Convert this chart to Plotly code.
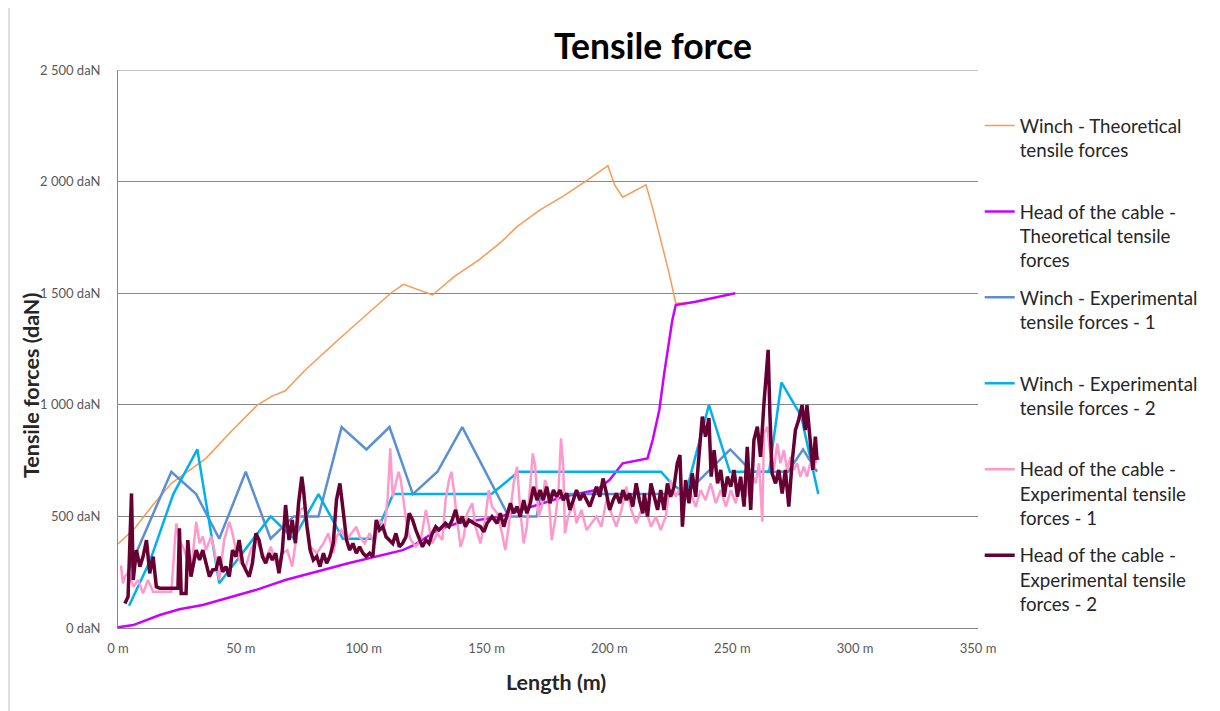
import plotly.graph_objects as go

# ---------------- data ----------------
winch_theo_x = [0, 6.9, 13.6, 21.7, 35.8, 46.6, 56.7, 62.7, 68.1, 76.2, 91, 101.8, 111.2, 116.2, 128,
                136.8, 146.9, 156, 162.4, 171.8, 181.2, 190.6, 199.4, 202.1, 205.4, 214.9, 217.6,
                220.9, 224.3, 227, 233.7]
winch_theo_y = [376, 448, 543, 648, 760, 887, 999, 1039, 1063, 1156, 1305, 1410, 1502, 1540, 1492,
                1574, 1649, 1730, 1798, 1873, 1935, 2003, 2071, 1985, 1930, 1985, 1880,
                1738, 1589, 1455, 1457]

head_theo_x = [0, 6.2, 17, 25, 34.5, 46.6, 56, 68.1, 80.2, 93.7, 115.9, 120.6, 130, 138, 155.5,
               181.2, 194.7, 200, 205.4, 215.5, 217.6, 220.3, 222.3, 224.3, 225.6, 227, 235, 251.2]
head_theo_y = [3, 13, 58, 84, 103, 140, 170, 215, 252, 290, 349, 372, 439, 469, 499,
               588, 618, 663, 738, 760, 842, 977, 1141, 1290, 1380, 1447, 1462, 1500]

winch_exp1_x = [4, 21.7, 31.8, 41.2, 52, 62.1, 71.5, 81.6, 91, 101.1, 110.5, 120, 130, 140.1,
                159, 170.4, 172, 231, 240, 249.2, 258, 272.7, 278.8, 284.5]
winch_exp1_y = [250, 700, 600, 400, 700, 400, 500, 500, 900, 800, 900, 600, 700, 900,
                500, 500, 600, 600, 700, 800, 700, 700, 800, 700]

winch_exp2_x = [4.5, 13, 22.5, 32.3, 41.2, 62.1, 71.5, 81.6, 91.5, 104, 112, 152, 163, 221, 225,
                231, 240.5, 249, 259.3, 265, 270, 278, 285]
winch_exp2_y = [100, 300, 600, 800, 200, 500, 400, 600, 400, 400, 600, 600, 700, 700, 650,
                600, 1000, 700, 700, 700, 1100, 950, 600]

head_exp1_x = [1.2, 2, 2.8, 4.2, 6.2, 8.2, 10.2, 12.2, 14.3, 17, 21.7, 23.7, 25, 27, 29.7, 31.8,
               33.2, 34.5, 35.8, 37.9, 39.2, 41.2, 43.2, 45.3, 46.6, 48, 50, 52, 54, 56.1, 58.1,
               60.1, 62.2, 64.8, 66.9, 68.9, 70.9, 72.8, 74.2, 76.2, 78.2, 80.9, 83.6, 85.6, 87.6,
               88.9, 90.9, 93, 95, 97, 98.3, 100.4, 102.4, 104.4, 106.4, 108.5, 109.8, 110.8, 111.8,
               113.1, 114.2, 115.1, 116.5, 117.8, 119.2, 121.2, 123.2, 125.3, 126.6, 127.9, 129.9,
               132, 133.3, 134.7, 135.7, 136.7, 138, 139.4, 140.7, 142.1, 144.2, 145.5, 147.5, 149.6,
               150.9, 152.2, 154.3, 156.3, 157.6, 159, 161, 162.4, 163.7, 165.1, 166.4, 167.8, 168.8,
               169.8, 171.1, 172.5, 173.8, 175.2, 176.5, 177.9, 179.2, 180.3, 181.2, 181.9, 183.2,
               185.3, 186.6, 188.6, 190.7, 192.7, 194.7, 196.7, 198.8, 200.8, 202.8, 204.9, 206.9,
               208.9, 210.9, 213, 214.8, 216.9, 218.9, 220.9, 222.9, 224.9, 227, 229, 231, 233,
               235.1, 237.1, 239.1, 241.2, 243.3, 245.3, 247.4, 249.4, 251.4, 253.4, 255.5, 257.5,
               259.5, 260.9, 262.2, 262.9, 264.2, 265.6, 266.9, 268.3, 269.6, 271, 272.3, 273.7, 275,
               276.4, 277.7, 279.1, 280.4, 281.7, 283.1, 284.5, 285.6]
head_exp1_y = [280, 200, 230, 250, 185, 215, 155, 215, 162, 162, 162, 469, 394, 349, 245, 476,
               380, 410, 349, 410, 349, 215, 394, 476, 424, 349, 290, 275, 349, 394, 349,
               305, 364, 275, 335, 349, 275, 424, 529, 544, 364, 335, 379, 424, 335,
               409, 439, 394, 424, 454, 409, 379, 424, 379, 484, 454, 588, 805, 588,
               648, 700, 662, 544, 439, 394, 364, 394, 529, 454, 379, 424,
               394, 573, 663, 700, 618, 484, 364, 409, 514, 559, 454, 379, 499,
               618, 544, 514, 424, 349, 454, 648, 723, 529, 379, 454, 633, 782,
               723, 499, 544, 663, 603, 394, 484, 603, 850, 723, 424, 499,
               559, 469, 529, 439, 469, 499, 454, 573, 514, 454, 529, 633,
               529, 469, 529, 529, 454, 499, 439, 499, 663, 588, 633, 573, 603,
               544, 618, 573, 648, 559, 618, 544, 618, 559, 663, 588, 708,
               648, 738, 476, 872, 902, 767, 708, 827, 738, 797, 708, 767, 708,
               738, 678, 723, 678, 738, 708, 767, 753]

head_exp2_x = [2.8, 4.1, 5.5, 6.2, 7.5, 8.9, 10.2, 11.6, 12.9, 14.3, 15.6, 17, 24.4, 25, 25.7, 27.7,
               28.4, 29.7, 31.8, 33.2, 34.5, 35.8, 37.2, 38.5, 39.9, 41.2, 42.6, 43.9, 45.3, 46.6,
               48, 49.3, 50.7, 52, 53.4, 54.7, 56.1, 57.4, 58.8, 60.1, 61.5, 62.8, 64.2, 65.5, 66.9,
               68.2, 69.6, 70.9, 72.2, 73.5, 74.8, 75.5, 76.9, 78.2, 79.5, 80.9, 82.2, 83.6, 84.9,
               86.2, 87.6, 88.9, 90.3, 91.6, 93, 94.3, 95.6, 97, 98.3, 99.7, 101, 102.4, 103.7,
               105.1, 106.4, 107.8, 109.1, 110.4, 111.8, 113.1, 114.5, 115.8, 117.2, 118.5, 119.9,
               121.2, 122.6, 123.9, 125.3, 126.6, 127.9, 129.3, 130.6, 132, 133.3, 134.7, 136,
               137.4, 138.7, 140.1, 141.4, 142.8, 144.8, 147.5, 148.9, 150.2, 152.2, 154.3, 155.6,
               157, 158.3, 159.7, 161, 162.4, 163.7, 165.1, 166.4, 167.8, 169.1, 170.5, 171.8,
               173.1, 174.5, 175.8, 177.2, 178.5, 179.9, 181.2, 182.6, 183.9, 185.3, 186.6, 188,
               189.3, 190.7, 192, 193.4, 194.7, 196.1, 197.4, 198.8, 200.1, 201.5, 202.8, 204.2,
               205.5, 206.9, 208.2, 209.5, 210.9, 212.2, 213.6, 214.2, 215.5, 216.9, 218.2, 219.6,
               220.9, 222.2, 223.6, 224.9, 226.3, 227.6, 228.7, 229.7, 231, 232.4, 233.7, 235.1,
               236.4, 237.8, 239.1, 240.5, 241.4, 242.6, 244, 245.3, 246.7, 248, 249.4, 250.7,
               252.1, 253.4, 254.8, 256.1, 257.5, 258.8, 260.2, 261.5, 262.9, 263.9, 264.6, 265.3,
               266.2, 267.6, 268.9, 270.3, 271.6, 273, 274.3, 275.7, 277, 278.4, 279.7, 280.4,
               281.7, 282.8, 283.8, 284.5]
head_exp2_y = [110, 140, 603, 215, 349, 275, 320, 394, 245, 320, 185, 178, 178, 447, 155, 155,
               394, 230, 349, 305, 349, 290, 230, 260, 262, 320, 252, 275, 230, 349,
               320, 394, 290, 260, 230, 290, 424, 394, 320, 290, 335, 305, 335, 245, 349,
               551, 394, 484, 380, 560, 678, 618, 454, 349, 305, 320, 275, 335, 290,
               320, 379, 573, 648, 529, 394, 349, 379, 335, 364, 335, 320, 335, 320,
               484, 439, 454, 409, 394, 379, 424, 364, 379, 409, 514, 484,
               439, 394, 364, 394, 379, 424, 454, 439, 454, 469, 454, 484,
               529, 469, 499, 454, 484, 469, 454, 431, 469, 499, 469, 514,
               454, 499, 559, 514, 544, 499, 573, 514, 559, 633, 573, 618,
               573, 633, 559, 618, 588, 618, 573, 603, 529, 573, 618, 573,
               603, 573, 544, 588, 633, 588, 670, 603, 529, 573, 603, 559,
               618, 573, 603, 544, 648, 573, 514, 603, 499, 648, 588, 529,
               618, 529, 648, 588, 633, 738, 775, 454, 663, 559, 693, 588,
               767, 947, 857, 940, 678, 797, 648, 708, 588, 678, 633, 708,
               588, 678, 544, 812, 529, 842, 902, 767, 1007, 1156, 1246, 962,
               693, 648, 708, 603, 708, 544, 738, 887, 932, 999, 887, 999,
               842, 708, 857, 753]

series_names = [
    "Winch - Theoretical<br>tensile forces<br> ",
    "Head of the cable -<br>Theoretical tensile<br>forces",
    "Winch - Experimental<br>tensile forces - 1<br> ",
    "Winch - Experimental<br>tensile forces - 2<br> ",
    "Head of the cable -<br>Experimental tensile<br>forces - 1",
    "Head of the cable -<br>Experimental tensile<br>forces - 2",
]

# ---------------- styles ----------------
colors = ["#F79A55", "#CC00FF", "#5A8FD6", "#00B0F0", "#FF99CC", "#660033"]
widths = [1.5, 2.5, 2.5, 2.5, 2.5, 3.5]

series = [
    (winch_theo_x, winch_theo_y),
    (head_theo_x, head_theo_y),
    (winch_exp1_x, winch_exp1_y),
    (winch_exp2_x, winch_exp2_y),
    (head_exp1_x, head_exp1_y),
    (head_exp2_x, head_exp2_y),
]

FONT = "Lato, 'Open Sans', sans-serif"
GRID = "#878787"

# the page body has an 8px margin, so the figure is drawn at (8, 8)
W, H = 1212, 703
L, R, T, B = 110, 242, 62, 83
plot_w = W - L - R
plot_h = H - T - B
OFF = 8  # page offset


def px_to_paper_x(px):
    return (px - OFF - L) / plot_w


def px_to_paper_y(py):
    return (H - B - (py - OFF)) / plot_h


fig = go.Figure()
for i, ((xs, ys), nm) in enumerate(zip(series, series_names)):
    fig.add_trace(go.Scatter(
        x=xs, y=ys, mode="lines", name=nm, legendgroup=f"g{i}",
        line=dict(color=colors[i], width=widths[i]),
    ))

fig.update_layout(
    width=W, height=H,
    margin=dict(l=L, r=R, t=T, b=B, autoexpand=False),
    paper_bgcolor="white", plot_bgcolor="white",
    separators=". ",
    font=dict(family=FONT, color="#404040"),
    title=dict(text="<b>Tensile force</b>", x=(653 - OFF) / W, xref="container", xanchor="center",
               y=1 - (47 - OFF) / H, yref="container", yanchor="middle",
               font=dict(size=35.5, color="#000000", family=FONT)),
    showlegend=True,
    legend=dict(x=1.002, xanchor="left", y=0.934, yanchor="top", valign="top",
                itemwidth=30, tracegroupgap=10,
                font=dict(size=18.7, color="#262626", family=FONT),
                bgcolor="rgba(0,0,0,0)"),
    xaxis=dict(range=[0, 350], dtick=50, tick0=0, ticksuffix=" m",
               showgrid=False, zeroline=False, showline=True, linecolor=GRID, linewidth=1,
               ticks="", ticklabelstandoff=8,
               tickfont=dict(size=13, color="#595959", family=FONT)),
    yaxis=dict(range=[0, 2500], dtick=500, tick0=0, tickformat=",d", ticksuffix=" daN",
               showgrid=True, gridcolor=GRID, gridwidth=1, zeroline=False,
               showline=True, linecolor=GRID, linewidth=1,
               ticks="", ticklabelstandoff=14,
               tickfont=dict(size=13, color="#595959", family=FONT)),
    annotations=[
        dict(text="<b>Tensile forces (daN)</b>", textangle=-90, showarrow=False,
             xref="paper", yref="paper", x=px_to_paper_x(31), y=px_to_paper_y(386),
             xanchor="center", yanchor="middle",
             font=dict(size=21.5, color="#262626", family=FONT)),
        dict(text="<b>Length (m)</b>", showarrow=False,
             xref="paper", yref="paper", x=px_to_paper_x(556), y=px_to_paper_y(682),
             xanchor="center", yanchor="middle",
             font=dict(size=21.5, color="#262626", family=FONT)),
    ],
    shapes=[
        dict(type="line", xref="paper", yref="y", x0=0, x1=1, y0=2500, y1=2500,
             line=dict(color=GRID, width=1), layer="below"),
        dict(type="line", xref="paper", yref="paper",
             x0=px_to_paper_x(9), x1=px_to_paper_x(9),
             y0=px_to_paper_y(720), y1=px_to_paper_y(-10),
             line=dict(color="#BFBFBF", width=1)),
    ],
)

fig.write_html("out.html")
